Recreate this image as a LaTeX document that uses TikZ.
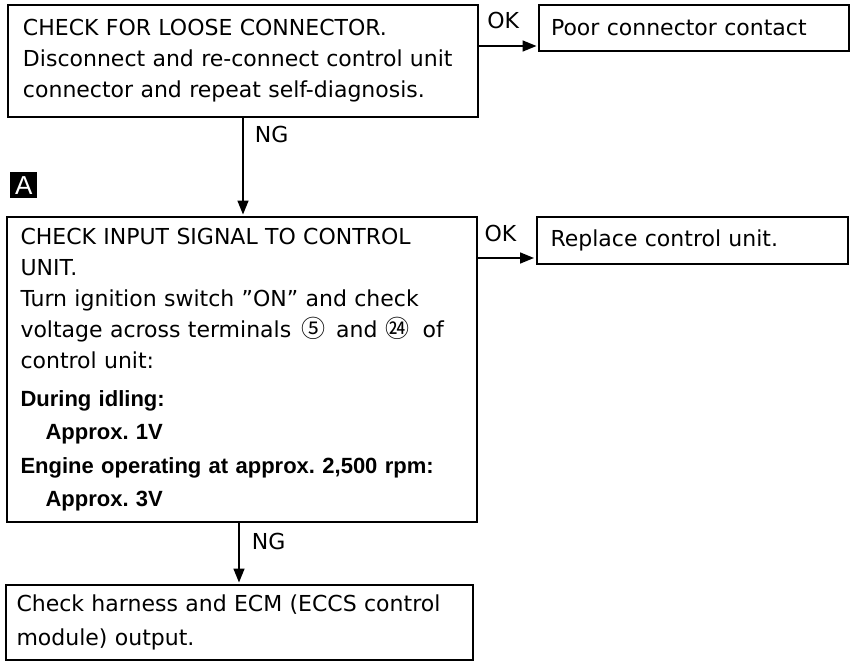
\documentclass[tikz,border=0pt]{standalone}
\usepackage{fontspec}
\setmainfont{DejaVu Sans}
\newfontfamily\boldsans{Liberation Sans}
\newfontfamily\cjk{Noto Sans CJK JP}
\usetikzlibrary{arrows.meta}
\frenchspacing
\newcommand{\bsf}[1]{{\boldsans\bfseries #1}}
\newcommand{\circnum}[1]{{\cjk\fontsize{24}{24}\selectfont #1}}
\begin{document}
\begin{tikzpicture}[x=1pt,y=-1pt,
  box/.style={draw, line width=2pt, anchor=north west, align=left, inner ysep=0pt,
    font=\fontsize{22}{31}\selectfont},
  arr/.style={line width=1.6pt, shorten >=1.5pt, -{Triangle[length=14pt,width=11pt]}},
  lbl/.style={font=\fontsize{22}{26}\selectfont, inner sep=0pt},
  marker/.style={fill=black, text=white, inner sep=0pt, anchor=north west,
    minimum width=27pt, minimum height=26pt, font=\boldsans\fontsize{26}{26}\selectfont}]
\useasboundingbox (0,0) rectangle (856,661);

% main column
\node[box, inner xsep=15pt, text width=440pt, minimum height=112pt] (b1) at (7,4)
  {CHECK FOR LOOSE CONNECTOR.\\
   Disconnect and re-connect control unit\\
   connector and repeat self-diagnosis.};

\node[marker] (mA) at (10,172) {A};

\node[box, inner xsep=14pt, text width=442.5pt, minimum height=305pt] (b2) at (5.5,216)
  {CHECK INPUT SIGNAL TO CONTROL\\
   UNIT.\\
   Turn ignition switch ''ON'' and check\\
   voltage across terminals\hspace{10pt}\circnum{⑤}\hspace{11pt}and\hspace{8pt}\circnum{㉔}\hspace{13pt}of\\
   control unit:\\[7pt]
   \bsf{During idling:}\\[2.5pt]
   \hspace*{25pt}\bsf{Approx. 1V}\\[2.5pt]
   \bsf{Engine operating at approx. 2,500 rpm:}\\[2.5pt]
   \hspace*{25pt}\bsf{Approx. 3V}};

\node[box, inner xsep=11pt, text width=445pt, minimum height=75pt,
  font=\fontsize{22}{34}\selectfont] (b3) at (4.5,584)
  {Check harness and ECM (ECCS control\\
   module) output.};

% right column
\node[box, inner xsep=12pt, text width=286pt, minimum height=46pt] (r1) at (538,4)
  {Poor connector contact};
\node[box, inner xsep=14pt, text width=283pt, minimum height=47pt] (r2) at (535.5,216)
  {Replace control unit.};

% connectors
\coordinate (p1) at ([yshift=6pt]r1.south west);
\coordinate (p2) at ([yshift=7pt]r2.south west);
\draw[arr] (b1.east |- p1) -- node[lbl, pos=0.41, above=16pt] (ok1) {OK} (p1);
\draw[arr] (b2.east |- p2) -- node[lbl, pos=0.39, above=15.5pt] (ok2) {OK} (p2);
\draw[arr] (b1.south) -- node[lbl, pos=0.17, anchor=west, xshift=11pt] (ng1) {NG} (b1.south |- b2.north);
\draw[arr] (b3.north |- b2.south) -- node[lbl, pos=0.3, anchor=west, xshift=12pt] (ng2) {NG} (b3.north);
\end{tikzpicture}
\end{document}
